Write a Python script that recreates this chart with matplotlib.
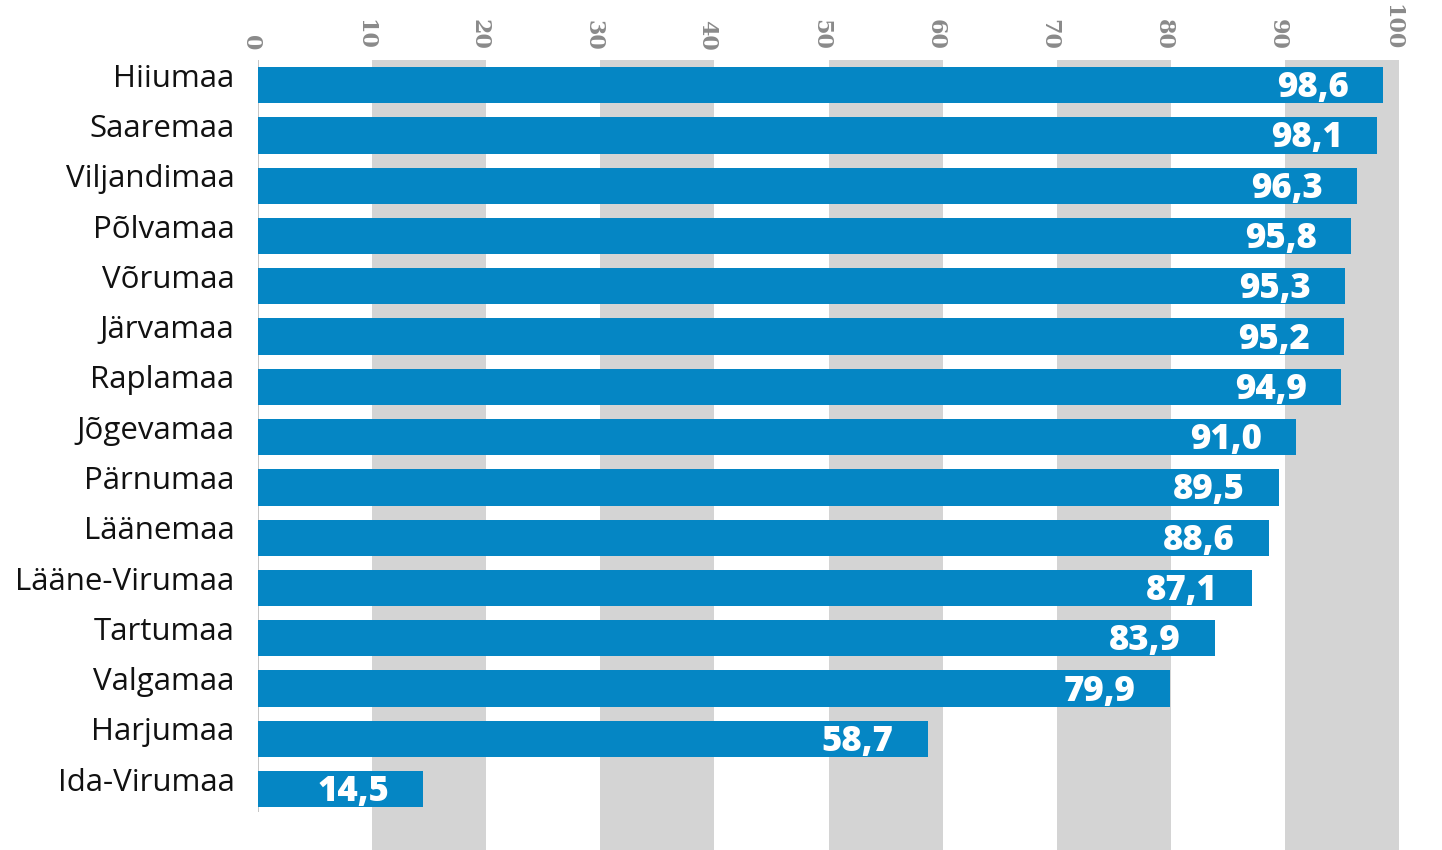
import matplotlib.pyplot as plt
from matplotlib.transforms import ScaledTranslation

# maakonnad ja väärtused (ülevalt alla)
counties = ['Hiiumaa', 'Saaremaa', 'Viljandimaa', 'Põlvamaa', 'Võrumaa', 'Järvamaa',
            'Raplamaa', 'Jõgevamaa', 'Pärnumaa', 'Läänemaa', 'Lääne-Virumaa',
            'Tartumaa', 'Valgamaa', 'Harjumaa', 'Ida-Virumaa']
values = [98.6, 98.1, 96.3, 95.8, 95.3, 95.2, 94.9, 91.0, 89.5, 88.6, 87.1,
          83.9, 79.9, 58.7, 14.5]
ticks = [0, 10, 20, 30, 40, 50, 60, 70, 80, 90, 100]

blue = '#0586c4'
band = '#d4d4d4'

fig = plt.figure(figsize=(14.42, 8.5), dpi=100)
ax = fig.add_axes([258 / 1442, 0, (1399 - 258) / 1442, 1 - 60 / 850])

# hallid ribad 10-20, 30-40, ...
for t in ticks[1::2]:
    ax.axvspan(t, t + 10, color=band, lw=0, zorder=0)

y = list(range(len(counties)))
ax.barh(y, values, height=0.72, color=blue, zorder=2)
ax.vlines(0, -0.5, 14.46, color='#bbbbbb', lw=1.2, zorder=1)

for yi, v in zip(y, values):
    lab = f'{v:.1f}'.replace('.', ',')
    ax.text(v - 3, yi + 0.06, lab, color='white', fontsize=25, fontweight='heavy',
            family='Open Sans', ha='right', va='center', zorder=3)

ax.set_xlim(0, 100)
ax.set_ylim(15.21, -0.5)
ax.set_yticks(y)
ax.set_yticklabels(counties, fontsize=22.5, family='Open Sans', color='#111111')
ax.tick_params(axis='y', length=0, pad=17)
# nimed veidi kõrgemale
shift = ScaledTranslation(0, 0.1, fig.dpi_scale_trans)
for lbl in ax.get_yticklabels():
    lbl.set_transform(lbl.get_transform() + shift)

ax.xaxis.tick_top()
ax.set_xticks(ticks)
ax.set_xticklabels([str(t) for t in ticks], rotation=270, fontsize=16,
                   fontweight='bold', family='DejaVu Serif', color='#8a8a8a')
ax.tick_params(axis='x', length=0, pad=7)
# numbrid veidi vasakule
xshift = ScaledTranslation(-0.07, 0, fig.dpi_scale_trans)
for lbl in ax.get_xticklabels():
    lbl.set_transform(lbl.get_transform() + xshift)
for s in ax.spines.values():
    s.set_visible(False)

fig.savefig('out.png', dpi=100, facecolor='white')
